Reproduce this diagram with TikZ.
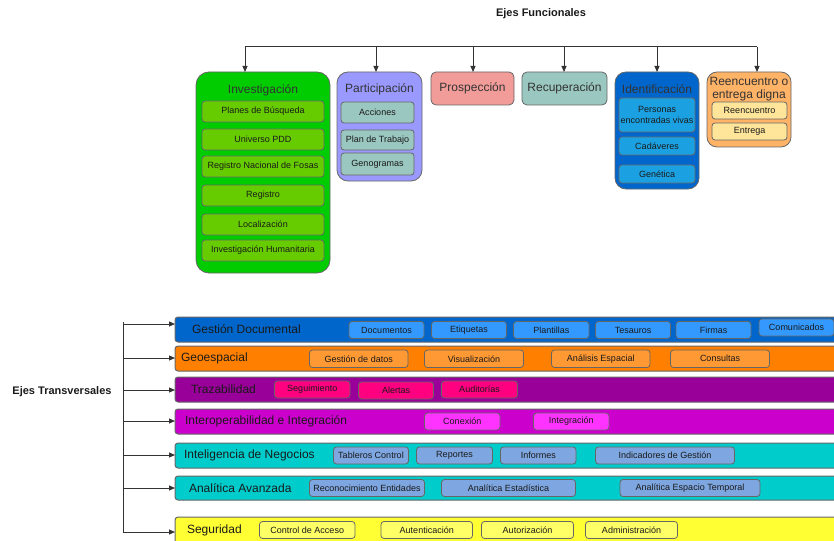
\documentclass[tikz,border=0pt]{standalone}
\usepackage{fontspec}
\setmainfont{Liberation Sans}
\usetikzlibrary{arrows.meta}
\definecolor{bordc}{HTML}{666666}
\definecolor{txtc}{HTML}{1A1A1A}
\definecolor{linec}{HTML}{333333}
\definecolor{invC}{HTML}{00CC00}\definecolor{invS}{HTML}{66CC00}
\definecolor{parC}{HTML}{9999FF}\definecolor{parS}{HTML}{9AC7BF}
\definecolor{proC}{HTML}{F19C99}
\definecolor{recC}{HTML}{9AC7BF}
\definecolor{ideC}{HTML}{0066CC}\definecolor{ideS}{HTML}{1BA1E2}
\definecolor{reeC}{HTML}{FFB366}\definecolor{reeS}{HTML}{FFE599}
\definecolor{gdC}{HTML}{0066CC}\definecolor{gdS}{HTML}{3399FF}
\definecolor{geC}{HTML}{FF8000}\definecolor{geS}{HTML}{FF9933}
\definecolor{trC}{HTML}{990099}\definecolor{trS}{HTML}{FF0080}
\definecolor{ioC}{HTML}{CC00CC}\definecolor{ioS}{HTML}{FF33FF}
\definecolor{inC}{HTML}{00CCCC}\definecolor{inS}{HTML}{7EA6E0}
\definecolor{seC}{HTML}{FFFF33}\definecolor{seS}{HTML}{FFFF66}
\newcommand\bx[7]{\node[#2, minimum width=#5pt-#3pt, minimum height=#6pt-#4pt] (#1) at ({(#3+#5)/2},{(#4+#6)/2}) {#7};}
\begin{document}
\begin{tikzpicture}[x=1pt,y=-1pt,
  every node/.style={inner sep=0pt, outer sep=0pt, text=txtc},
  colbox/.style={draw=bordc, line width=0.8pt, rounded corners=13pt},
  smallcol/.style={draw=bordc, line width=0.8pt, rounded corners=5pt, font=\fontsize{12}{13}\selectfont, text=linec},
  coltitle/.style={font=\fontsize{12}{13}\selectfont, text=linec},
  subbox/.style={draw=bordc, line width=0.8pt, rounded corners=3pt, font=\fontsize{9}{10.5}\selectfont, align=center},
  band/.style={draw=bordc, line width=1pt, rounded corners=3pt},
  bandlabel/.style={font=\fontsize{12}{13}\selectfont, anchor=west, text=txtc},
  bsub/.style={draw=bordc, line width=0.8pt, rounded corners=3pt, font=\fontsize{9}{10}\selectfont},
  conn/.style={draw=linec, line width=1pt},
  arr/.style={conn, -{Triangle[length=6pt,width=5pt]}}
]
\useasboundingbox (0,0) rectangle (834,540);

% ---------- Ejes Funcionales ----------
\node[font=\bfseries\fontsize{11}{12}\selectfont] (tit) at (541,14) {Ejes Funcionales};

% Investigación
\bx{inv}{colbox, fill=invC}{196}{72}{330}{273}{}
\node[coltitle] (invt) at (263,90) {Investigación};
\bx{inv1}{subbox, fill=invS}{202}{101}{324}{122}{Planes de Búsqueda}
\bx{inv2}{subbox, fill=invS}{202}{129}{324}{150}{Universo PDD}
\bx{inv3}{subbox, fill=invS}{202}{156}{324}{177}{Registro Nacional de Fosas}
\bx{inv4}{subbox, fill=invS}{202}{185}{324}{206}{Registro}
\bx{inv5}{subbox, fill=invS}{202}{214}{324}{235}{Localización}
\bx{inv6}{subbox, fill=invS}{202}{240}{324}{261}{Investigación Humanitaria}

% Participación
\bx{par}{colbox, rounded corners=11pt, fill=parC}{337}{72}{422}{181}{}
\node[coltitle] (part) at (379.5,89) {Participación};
\bx{par1}{subbox, fill=parS}{341}{102}{414}{123}{Acciones}
\bx{par2}{subbox, fill=parS}{341}{130}{414}{150}{Plan de Trabajo}
\bx{par3}{subbox, fill=parS}{341}{153}{414}{175}{Genogramas}

% Prospección, Recuperación
\bx{pro}{smallcol, fill=proC}{431}{72}{514}{105}{Prospección}
\bx{rec}{smallcol, fill=recC}{522}{72}{607}{105}{Recuperación}

% Identificación
\bx{ide}{colbox, rounded corners=11pt, fill=ideC}{615}{72}{699}{189}{}
\node[coltitle] (idet) at (657,89) {Identificación};
\bx{ide1}{subbox, fill=ideS}{619}{98}{695}{132}{Personas\\encontradas vivas}
\bx{ide2}{subbox, fill=ideS}{619}{137}{695}{155}{Cadáveres}
\bx{ide3}{subbox, fill=ideS}{619}{165}{695}{183}{Genética}

% Reencuentro
\bx{ree}{colbox, rounded corners=10pt, fill=reeC}{707}{72}{791}{147}{}
\node[coltitle, align=center, font=\fontsize{12}{13.5}\selectfont] (reet) at (749,89) {Reencuentro o\\entrega digna};
\bx{ree1}{subbox, fill=reeS}{712}{102}{787}{119}{Reencuentro}
\bx{ree2}{subbox, fill=reeS}{712}{123}{787}{140}{Entrega}

% bus
\coordinate (b1) at (245,47);
\coordinate (b2) at (376,47);
\coordinate (b3) at (473,47);
\coordinate (b4) at (564,47);
\coordinate (b5) at (657,47);
\coordinate (b6) at (757,47);
\draw[conn] (b1) -- (b6);
\draw[arr] (b1) -- (b1 |- inv.north);
\draw[arr] (b2) -- (b2 |- par.north);
\draw[arr] (b3) -- (b3 |- pro.north);
\draw[arr] (b4) -- (b4 |- rec.north);
\draw[arr] (b5) -- (b5 |- ide.north);
\draw[arr] (b6) -- (b6 |- ree.north);

% ---------- Ejes Transversales ----------
\node[font=\bfseries\fontsize{11}{12}\selectfont] (trans) at (62,392) {Ejes Transversales};

\bx{gd}{band, fill=gdC}{175}{317}{838}{342}{}
\bx{ge}{band, fill=geC}{175}{346}{838}{371}{}
\bx{tr}{band, fill=trC}{175}{377}{838}{402}{}
\bx{io}{band, fill=ioC}{175}{409}{838}{434}{}
\bx{in}{band, fill=inC}{175}{443}{838}{468}{}
\bx{an}{band, fill=inC}{175}{476}{838}{500}{}
\bx{se}{band, fill=seC}{175}{517}{838}{546}{}

\node[bandlabel] (gdl) at (192,329.5) {Gestión Documental};
\node[bandlabel] (gel) at (181,358.5) {Geoespacial};
\node[bandlabel] (trl) at (191,389.5) {Trazabilidad};
\node[bandlabel] (iol) at (185,421.5) {Interoperabilidad e Integración};
\node[bandlabel] (inl) at (184,455.5) {Inteligencia de Negocios};
\node[bandlabel] (anl) at (189,488.5) {Analítica Avanzada};
\node[bandlabel] (sel) at (187,530) {Seguridad};

% trunk
\coordinate (t0) at (123,322);
\coordinate (t7) at (123,532);
\draw[conn] (t0) -- (t7);
\coordinate (a1) at (123,324);
\coordinate (a2) at (123,358);
\coordinate (a3) at (123,390);
\coordinate (a4) at (123,421);
\coordinate (a5) at (123,455);
\coordinate (a6) at (123,488);
\coordinate (a7) at (123,532);
\draw[arr] (a1) -- (a1 -| gd.west);
\draw[arr] (a2) -- (a2 -| ge.west);
\draw[arr] (a3) -- (a3 -| tr.west);
\draw[arr] (a4) -- (a4 -| io.west);
\draw[arr] (a5) -- (a5 -| in.west);
\draw[arr] (a6) -- (a6 -| an.west);
\draw[arr] (a7) -- (a7 -| se.west);

% Gestión Documental subs
\bx{gd1}{bsub, fill=gdS}{349}{321.5}{424}{338.5}{Documentos}
\bx{gd2}{bsub, fill=gdS}{431.5}{321.5}{506.5}{338.5}{Etiquetas}
\bx{gd3}{bsub, fill=gdS}{513.5}{321.5}{589}{338.5}{Plantillas}
\bx{gd4}{bsub, fill=gdS}{595.5}{321.5}{670.5}{338.5}{Tesauros}
\bx{gd5}{bsub, fill=gdS}{676}{321.5}{751}{338.5}{Firmas}
\bx{gd6}{bsub, fill=gdS}{759}{319}{834}{336}{Comunicados}

% Geoespacial subs
\bx{ge1}{bsub, fill=geS}{309.5}{350}{408}{367.5}{Gestión de datos}
\bx{ge2}{bsub, fill=geS}{424.5}{350}{523.5}{367.5}{Visualización}
\bx{ge3}{bsub, fill=geS}{551.5}{350}{650}{367.5}{Análisis Espacial}
\bx{ge4}{bsub, fill=geS}{670.5}{350}{769.5}{367.5}{Consultas}

% Trazabilidad subs
\bx{tr1}{bsub, fill=trS}{274.5}{381}{350}{398}{Seguimiento}
\bx{tr2}{bsub, fill=trS}{358.5}{382}{433.5}{399}{Alertas}
\bx{tr3}{bsub, fill=trS}{441.5}{381}{517.5}{398}{Auditorías}

% Interoperabilidad subs
\bx{io1}{bsub, fill=ioS}{424.5}{413}{500}{430}{Conexión}
\bx{io2}{bsub, fill=ioS}{533.5}{413}{609}{430}{Integración}

% Inteligencia subs
\bx{in1}{bsub, fill=inS}{333.5}{447}{408.5}{464}{Tableros Control}
\bx{in2}{bsub, fill=inS}{416.5}{447}{492.5}{464}{Reportes}
\bx{in3}{bsub, fill=inS}{500.5}{447}{576}{464}{Informes}
\bx{in4}{bsub, fill=inS}{595.5}{447}{734.5}{464}{Indicadores de Gestión}

% Analítica subs
\bx{an1}{bsub, fill=inS}{309.5}{479.5}{424.5}{496.5}{Reconocimiento Entidades}
\bx{an2}{bsub, fill=inS}{441.5}{479.5}{575.5}{496.5}{Analítica Estadística}
\bx{an3}{bsub, fill=inS}{620}{479.5}{760}{496.5}{Analítica Espacio Temporal}

% Seguridad subs
\bx{se1}{bsub, fill=seS}{259.5}{521.5}{355}{538.5}{Control de Acceso}
\bx{se2}{bsub, fill=seS}{381}{521.5}{472.5}{538.5}{Autenticación}
\bx{se3}{bsub, fill=seS}{481.5}{521.5}{573.5}{538.5}{Autorización}
\bx{se4}{bsub, fill=seS}{585.5}{521.5}{677.5}{538.5}{Administración}
\end{tikzpicture}
\end{document}
